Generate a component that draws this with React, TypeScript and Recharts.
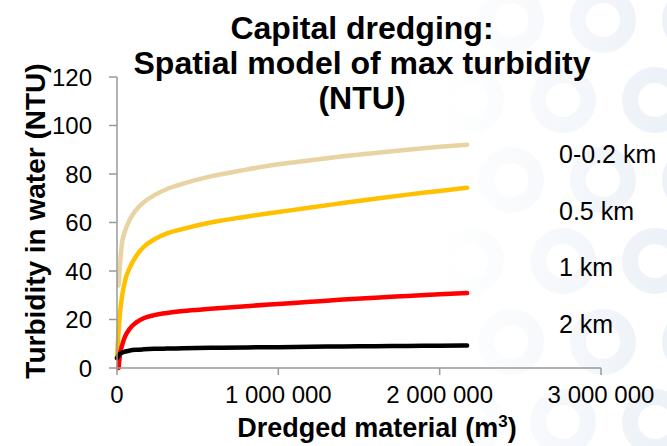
import { Line, LineChart, XAxis, YAxis } from "recharts"

// dredged volume (m3) at which each curve was sampled
const dredged = [
  0, 10000, 20000, 30000, 50000, 80000, 120000, 165000, 230000, 310000, 410000, 580000, 800000, 1000000,
  1200000, 1400000, 1600000, 1800000, 2000000, 2170000,
]

// max turbidity (NTU) by distance from the dredger
const near = [null, 34, 44, 51, 56.5, 61.3, 65.3, 68.3, 71.2, 73.8, 76, 79, 81.8, 84, 85.7, 87.3, 88.7, 90, 91.2, 92.1]
const halfKm = [4, 15.5, 23.5, 29, 36, 41.5, 46.3, 49.9, 53, 55.5, 57.4, 60, 62.4, 64.3, 66.2, 68, 69.8, 71.5, 73, 74.3]
const oneKm = [null, 0, 6.2, 9, 13, 16.3, 18.8, 20.5, 21.8, 22.7, 23.5, 24.4, 25.5, 26.4, 27.3, 28.2, 29, 29.7, 30.4, 30.9]
const twoKm = [4.1, 5.1, 5.9, 6.3, 6.8, 7.2, 7.5, 7.7, 7.9, 8, 8.1, 8.3, 8.5, 8.6, 8.8, 8.9, 9, 9.1, 9.2, 9.3]

const xTicks = [0, 1000000, 2000000, 3000000]
const yTicks = [0, 20, 40, 60, 80, 100, 120]

const seriesNames = ["0-0.2 km", "0.5 km", "1 km", "2 km"]
const titleLines = ["Capital dredging:", "Spatial model of max turbidity", "(NTU)"]

const data = dredged.map((x, i) => ({
  x,
  near: near[i],
  halfKm: halfKm[i],
  oneKm: oneKm[i],
  twoKm: twoKm[i],
}))

const font = "'Liberation Sans', Arial, sans-serif"
const axisColor = "#999999"

const fmt = (v: number) => String(v).replace(/\B(?=(\d{3})+(?!\d))/g, " ")

// faint ring pattern in the background
function Rings() {
  const rings: { cx: number; cy: number }[] = []
  const rowY = [20, 100, 180, 261, 342, 422]
  rowY.forEach((cy, r) => {
    const start = r % 2 === 0 ? 419 : 471
    for (let cx = start; cx < 720; cx += 92) rings.push({ cx, cy })
  })
  return (
    <svg width={667} height={446} style={{ position: "absolute", left: 0, top: 0 }}>
      <defs>
        <linearGradient id="ringFade" gradientUnits="userSpaceOnUse" x1={440} y1={0} x2={660} y2={0}>
          <stop offset="0" stopColor="#edf2f8" stopOpacity={0} />
          <stop offset="1" stopColor="#edf2f8" stopOpacity={1} />
        </linearGradient>
      </defs>
      {rings.map((c, i) => (
        <circle key={i} cx={c.cx} cy={c.cy} r={25} fill="none" stroke="url(#ringFade)" strokeWidth={16} />
      ))}
    </svg>
  )
}

export default function App() {
  const lineProps = {
    type: "monotone" as const,
    dot: false,
    strokeWidth: 4.5,
    strokeLinecap: "round" as const,
    isAnimationActive: false,
  }
  return (
    <div style={{ position: "absolute", left: 0, top: 0, width: 667, height: 446, background: "#fff", overflow: "hidden" }}>
      <Rings />
      <div style={{ position: "absolute", left: 0, top: 0 }}>
        <LineChart width={667} height={446} data={data} margin={{ top: 77, right: 66, bottom: 48, left: 57 }}>
          <XAxis
            dataKey="x"
            type="number"
            domain={[0, 3000000]}
            ticks={xTicks}
            tickFormatter={fmt}
            stroke={axisColor}
            strokeWidth={1.5}
            tickSize={7}
            tickMargin={11}
            height={30}
            tick={{ fill: "#000", fontSize: 24, fontFamily: font }}
          />
          <YAxis
            type="number"
            domain={[0, 120]}
            ticks={yTicks}
            stroke={axisColor}
            strokeWidth={1.5}
            tickSize={8}
            tickMargin={17}
            width={60}
            tick={{ fill: "#000", fontSize: 24, fontFamily: font }}
          />
          <Line {...lineProps} dataKey="near" stroke="#e8d3a2" />
          <Line {...lineProps} dataKey="halfKm" stroke="#ffc000" />
          <Line {...lineProps} dataKey="oneKm" stroke="#ff0000" />
          <Line {...lineProps} dataKey="twoKm" stroke="#000000" />
        </LineChart>
      </div>
      <svg width={667} height={446} style={{ position: "absolute", left: 0, top: 0, pointerEvents: "none" }}>
        {titleLines.map((t, i) => (
          <text key={t} x={362} y={39 + i * 35} textAnchor="middle" fontFamily={font} fontWeight="bold" fontSize={32} fill="#000">
            {t}
          </text>
        ))}
        {seriesNames.map((t, i) => (
          <text key={t} x={559} y={163 + i * 56.7} fontFamily={font} fontSize={25} fill="#000">
            {t}
          </text>
        ))}
        <text x={377} y={437} textAnchor="middle" fontFamily={font} fontWeight="bold" fontSize={27} fill="#000">
          Dredged material (m<tspan fontSize={17} dy={-10}>3</tspan>
          <tspan dy={10}>)</tspan>
        </text>
        <text
          transform="translate(45, 221) rotate(-90)"
          textAnchor="middle"
          fontFamily={font}
          fontWeight="bold"
          fontSize={28}
          fill="#000"
        >
          Turbidity in water (NTU)
        </text>
      </svg>
    </div>
  )
}
